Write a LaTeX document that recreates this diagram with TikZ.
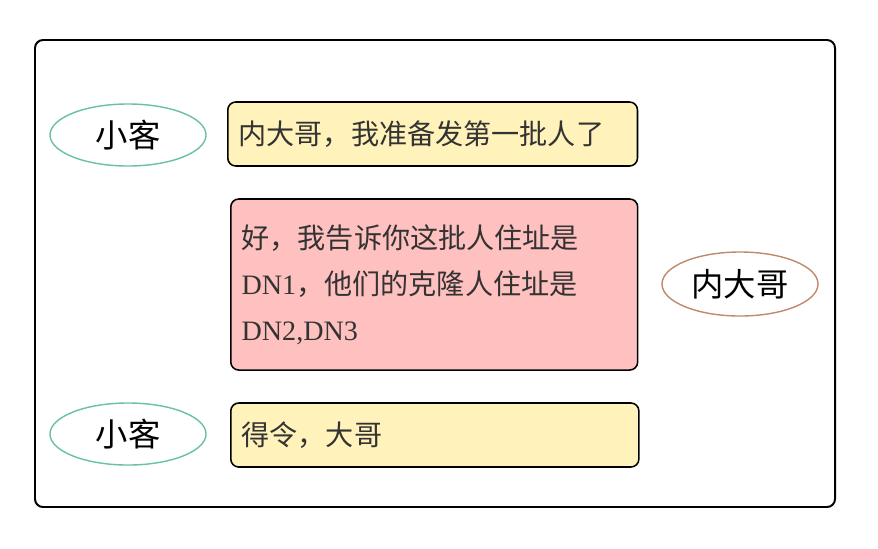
\documentclass[tikz,border=0pt]{standalone}
\usepackage{fontspec}
\setmainfont{Liberation Serif}
\newfontfamily\cjk{Noto Sans CJK SC}
\usetikzlibrary{positioning,shapes.geometric}
\definecolor{mint}{HTML}{67C2A0}
\definecolor{clay}{HTML}{C0896B}
\definecolor{note}{HTML}{FFF2BA}
\definecolor{rose}{HTML}{FFC0C0}
\definecolor{ink}{HTML}{333333}

\begin{document}
\begin{tikzpicture}[
  x=0.025cm, y=-0.025cm,
  who/.style={ellipse, draw, line width=1pt, fill=white, minimum width=3.9cm, minimum height=1.55cm, inner sep=0pt, font=\fontsize{23}{28}\selectfont\cjk},
  msg/.style={draw=black, line width=1.1pt, rounded corners=0.2cm, inner xsep=0.27cm, inner ysep=0pt, align=left, text=ink, font=\fontsize{20}{32.6}\selectfont, anchor=west}
]
  \useasboundingbox (0,0) rectangle (878,548);

  % outer frame
  \draw[line width=1.4pt, rounded corners=0.2cm] (35,40) rectangle (835,507);

  % row 1: client asks
  \node[who, draw=mint] (client1) at (128,135) {小客};
  \node[msg, fill=note, text width=9.7cm, minimum height=1.6cm] (ask) at (227,134) {{\cjk 内大哥，我准备发第一批人了}};

  % row 2: namenode answers
  \node[msg, fill=rose, text width=9.63cm, minimum height=4.275cm] (reply) at (230,284.5) {{\cjk 好，我告诉你这批人住址是}\\DN1{\cjk ，他们的克隆人住址是}\\DN2,DN3};
  \node[who, draw=clay, minimum height=1.6cm] (boss) at (740,284) {内大哥};

  % row 3: client confirms
  \node[who, draw=mint] (client2) at (128,434) {小客};
  \node[msg, fill=note, text width=9.66cm, minimum height=1.6cm] (ok) at (230,435) {{\cjk 得令，大哥}};
\end{tikzpicture}
\end{document}
